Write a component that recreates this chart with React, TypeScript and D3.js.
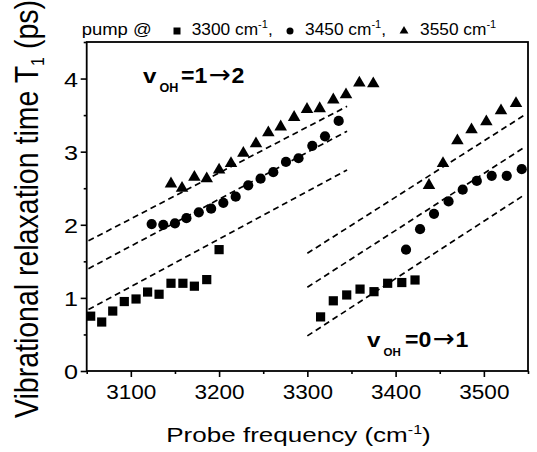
import React, { useEffect, useRef } from "react";
import * as d3 from "d3";

// pump @ 3300 cm-1 (squares)
const probe3300 = [3054.5, 3067, 3079.5, 3092.6, 3105.9, 3119, 3132, 3145.5, 3159, 3172, 3186, 3200,
  3315, 3329.4, 3344.6, 3359.7, 3375.5, 3391, 3407, 3422];
const t3300 = [0.75, 0.67, 0.82, 0.95, 0.985, 1.08, 1.05, 1.2, 1.2, 1.16, 1.25, 1.66,
  0.74, 0.96, 1.04, 1.12, 1.085, 1.2, 1.21, 1.245];

// pump @ 3450 cm-1 (circles)
const probe3450 = [3123.6, 3136.8, 3150, 3163, 3177, 3191, 3204.8, 3218.8, 3233, 3247, 3261.4, 3275.8, 3290, 3305.6, 3320, 3335.5,
  3411.8, 3427.7, 3443.5, 3460, 3476, 3492, 3508.9, 3525.9, 3542.9];
const t3450 = [2.01, 2.0, 2.02, 2.09, 2.17, 2.22, 2.3, 2.385, 2.54, 2.63, 2.72, 2.86, 2.91, 3.08, 3.21, 3.42,
  1.66, 1.94, 2.15, 2.32, 2.48, 2.6, 2.67, 2.67, 2.76];

// pump @ 3550 cm-1 (triangles)
const probe3550 = [3145.5, 3158, 3172, 3186, 3200, 3213.5, 3227.5, 3241.8, 3255.8, 3269.8, 3285, 3299.6, 3314, 3329.4, 3343.8, 3358.9, 3374.7,
  3437.8, 3453.7, 3470, 3486, 3502.8, 3519.4, 3536.4];
const t3550 = [2.56, 2.5, 2.65, 2.63, 2.75, 2.84, 2.98, 3.11, 3.26, 3.34, 3.47, 3.58, 3.59, 3.71, 3.78, 3.94, 3.93,
  2.54, 2.84, 3.15, 3.3, 3.41, 3.56, 3.66];

// dashed guide lines (start / end in data units)
const fitStartX = [3052, 3052, 3052, 3300, 3300, 3300];
const fitEndX = [3345, 3345, 3345, 3546, 3546, 3546];
const fitStartY = [1.78, 1.4, 0.84, 1.61, 1.145, 0.48];
const fitEndY = [3.62, 3.28, 2.75, 3.5, 3.06, 2.41];

const xTicks = [3100, 3200, 3300, 3400, 3500];
const xMinorTicks = [3050, 3150, 3250, 3350, 3450, 3550];
const yTicks = [0, 1, 2, 3, 4];
const yMinorTicks = [0.5, 1.5, 2.5, 3.5, 4.5];
const legendLabels = ["3300", "3450", "3550"];

const FONT = "'Liberation Sans', Arial, Helvetica, sans-serif";

const App = () => {
  const svgRef = useRef<SVGSVGElement>(null);

  useEffect(() => {
    const svg = d3.select(svgRef.current);
    svg.selectAll("*").remove();

    const x = d3.scaleLinear().domain([3050, 3550]).range([86.7, 528]);
    const y = d3.scaleLinear().domain([0, 4.5]).range([371, 42]);

    // --- axes ---
    const xAxis = svg.append("g").attr("transform", `translate(0,${y(0)})`)
      .call(d3.axisBottom(x).tickValues(xTicks).tickSize(6).tickFormat(d3.format("d")));
    const xMinor = svg.append("g").attr("transform", `translate(0,${y(0)})`)
      .call(d3.axisBottom(x).tickValues(xMinorTicks).tickSize(3).tickFormat(() => ""));
    const yAxis = svg.append("g").attr("transform", `translate(${x(3050)},0)`)
      .call(d3.axisLeft(y).tickValues(yTicks).tickSize(6).tickFormat(d3.format("d")));
    const yMinor = svg.append("g").attr("transform", `translate(${x(3050)},0)`)
      .call(d3.axisLeft(y).tickValues(yMinorTicks).tickSize(3).tickFormat(() => ""));

    [xAxis, xMinor, yAxis, yMinor].forEach((a) => {
      a.select(".domain").remove();
      a.selectAll("line").attr("stroke", "#000").attr("stroke-width", 1.6);
    });
    xAxis.selectAll("text")
      .attr("y", 13).attr("dy", "0.71em")
      .attr("transform", "scale(1.1,1)")
      .style("font-family", FONT).style("font-size", "20.5px").attr("fill", "#000");
    yAxis.selectAll("text")
      .attr("x", -7.2).attr("dy", "0.36em")
      .attr("transform", "scale(1.2,1)")
      .style("font-family", FONT).style("font-size", "21px").attr("fill", "#000");

    // frame
    svg.append("rect")
      .attr("x", x(3050)).attr("y", y(4.5))
      .attr("width", x(3550) - x(3050)).attr("height", y(0) - y(4.5))
      .attr("fill", "none").attr("stroke", "#000").attr("stroke-width", 1.8);

    // --- dashed lines ---
    svg.append("g").selectAll("line")
      .data(d3.range(fitStartX.length))
      .join("line")
      .attr("x1", (i) => x(fitStartX[i])).attr("y1", (i) => y(fitStartY[i]))
      .attr("x2", (i) => x(fitEndX[i])).attr("y2", (i) => y(fitEndY[i]))
      .attr("stroke", "#000").attr("stroke-width", 1.7).attr("stroke-dasharray", "6,4");

    // --- markers ---
    const sq = 9.2;
    svg.append("g").selectAll("rect")
      .data(d3.range(probe3300.length))
      .join("rect")
      .attr("x", (i) => x(probe3300[i]) - sq / 2).attr("y", (i) => y(t3300[i]) - sq / 2)
      .attr("width", sq).attr("height", sq).attr("fill", "#000");

    svg.append("g").selectAll("circle")
      .data(d3.range(probe3450.length))
      .join("circle")
      .attr("cx", (i) => x(probe3450[i])).attr("cy", (i) => y(t3450[i]))
      .attr("r", 5.1).attr("fill", "#000");

    const tri = d3.symbol().type(d3.symbolTriangle).size(68);
    svg.append("g").selectAll("path")
      .data(d3.range(probe3550.length))
      .join("path")
      .attr("transform", (i) => `translate(${x(probe3550[i])},${y(t3550[i])})`)
      .attr("d", tri).attr("fill", "#000");

    // --- text helper ---
    const addText = (px: number, py: number, size: number, sx: number, weight = "normal", anchor = "start") =>
      svg.append("text")
        .attr("transform", `translate(${px},${py}) scale(${sx},1)`)
        .attr("text-anchor", anchor)
        .style("font-family", FONT).style("font-size", `${size}px`).style("font-weight", weight)
        .attr("fill", "#000");

    // state labels: v_OH = a -> b
    const stateLabel = (px: number, py: number, subSize: number, from: string, to: string) => {
      addText(px, py, 21, 1.15, "bold").text("v");
      addText(px + 16.5, py + 9, subSize, 1.05, "bold").text("OH");
      const t = addText(px + 38, py, 22, 1.05, "bold");
      t.append("tspan").text(`=${from}`);
      t.append("tspan")
        .style("font-family", "'DejaVu Sans', sans-serif")
        .style("font-weight", "normal").style("font-size", "25px")
        .attr("dx", 1).text("→");
      t.append("tspan").attr("dx", 1).text(to);
    };
    stateLabel(143, 83, 12, "1", "2");
    stateLabel(367, 347, 11, "0", "1");

    // --- legend ---
    addText(81.7, 34.5, 16.5, 1.12).text("pump @");
    const legendX = [191.7, 305, 420];
    legendLabels.forEach((lab, i) => {
      const t = addText(legendX[i], 34.5, 16.5, 1.05);
      t.append("tspan").text(`${lab} cm`);
      t.append("tspan").attr("dy", -6.5).style("font-size", "10.5px").text("-1");
      if (i < 2) t.append("tspan").attr("dy", 6.5).text(",");
    });
    svg.append("rect").attr("x", 173.5).attr("y", 27.5).attr("width", 7).attr("height", 7).attr("fill", "#000");
    svg.append("circle").attr("cx", 290).attr("cy", 31).attr("r", 3.5).attr("fill", "#000");
    svg.append("path").attr("transform", "translate(404,31)")
      .attr("d", d3.symbol().type(d3.symbolTriangle).size(34)).attr("fill", "#000");

    // --- axis titles ---
    const xt = addText(298.5, 442, 21, 1.24, "normal", "middle");
    xt.append("tspan").text("Probe frequency (cm");
    xt.append("tspan").attr("dy", -8).style("font-size", "13px").text("-1");
    xt.append("tspan").attr("dy", 8).text(")");

    const yt = svg.append("text")
      .attr("transform", "translate(38,418) scale(1.15,1) rotate(-90)")
      .attr("text-anchor", "start")
      .style("font-family", FONT).style("font-size", "28.5px").attr("fill", "#000");
    yt.append("tspan").text("Vibrational relaxation time T");
    yt.append("tspan").attr("dy", 5).style("font-size", "16px").text("1");
    yt.append("tspan").attr("dy", -5).text(" (ps)");
  }, []);

  return (
    <svg
      ref={svgRef}
      width={537}
      height={452}
      style={{ position: "absolute", left: 0, top: 0, background: "#fff" }}
    />
  );
};

export default App;
